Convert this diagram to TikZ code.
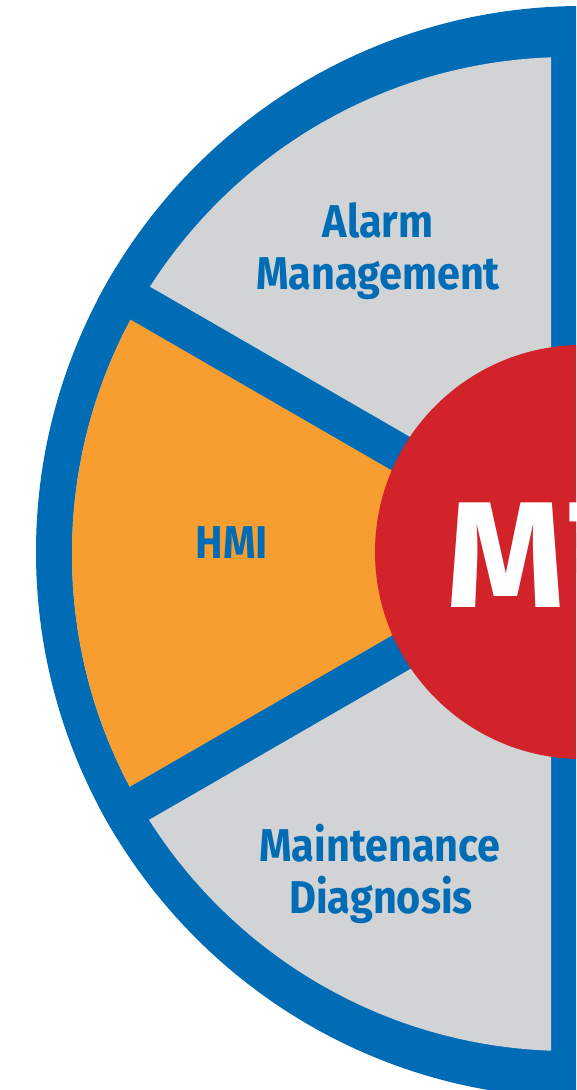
\documentclass[tikz,border=0pt]{standalone}
\usepackage{fontspec}
\setmainfont{Fira Sans}
\definecolor{ringblue}{RGB}{0,108,181}
\definecolor{segray}{RGB}{209,211,212}
\definecolor{hmiorange}{RGB}{248,158,49}
\definecolor{corered}{RGB}{210,35,42}
\newcommand\condtext[1]{\scalebox{0.9}[1]{#1}}
\begin{document}
\begin{tikzpicture}[x=1pt,y=-1pt,
  lbl/.style={text=ringblue, font=\fontsize{46}{52}\selectfont\bfseries, inner sep=0pt, anchor=base},
  core/.style={text=white, font=\fontsize{151}{160}\selectfont\bfseries, inner sep=0pt, anchor=base west}]
\useasboundingbox (0,0) rectangle (576,1090);
\clip (0,0) rectangle (576,1090);
\coordinate (C) at (573,553);
% outer blue disc
\fill[ringblue] (582,552) circle[radius=546pt];
% grey segments
\begin{scope}
  \clip (0,0) rectangle (551,1090);
  \fill[segray] (569,554) circle[radius=497pt];
\end{scope}
% orange HMI segment
\begin{scope}
  \clip (569,554) circle[radius=497pt];
  \fill[hmiorange] (C) -- +(210:700) -- +(150:700) -- cycle;
\end{scope}
% blue dividers
\begin{scope}
  \clip (582,552) circle[radius=546pt];
  \draw[ringblue, line width=38pt] (C) -- +(210:600);
  \draw[ringblue, line width=38pt] (C) -- +(150:600);
\end{scope}
% red core
\fill[corered] (582,552) circle[radius=207pt];
% labels
\node[lbl] (alarm) at (378,237) {\condtext{Alarm}};
\node[lbl] (mgmt) at (378,289) {\condtext{Management}};
\node[lbl] (hmi) at (232,558) {\condtext{HMI}};
\node[lbl] (maint) at (380,861) {\condtext{Maintenance}};
\node[lbl] (diag) at (381,913) {\condtext{Diagnosis}};
\node[core] (mt) at (446,607) {M\kern4pt T};
\end{tikzpicture}
\end{document}
